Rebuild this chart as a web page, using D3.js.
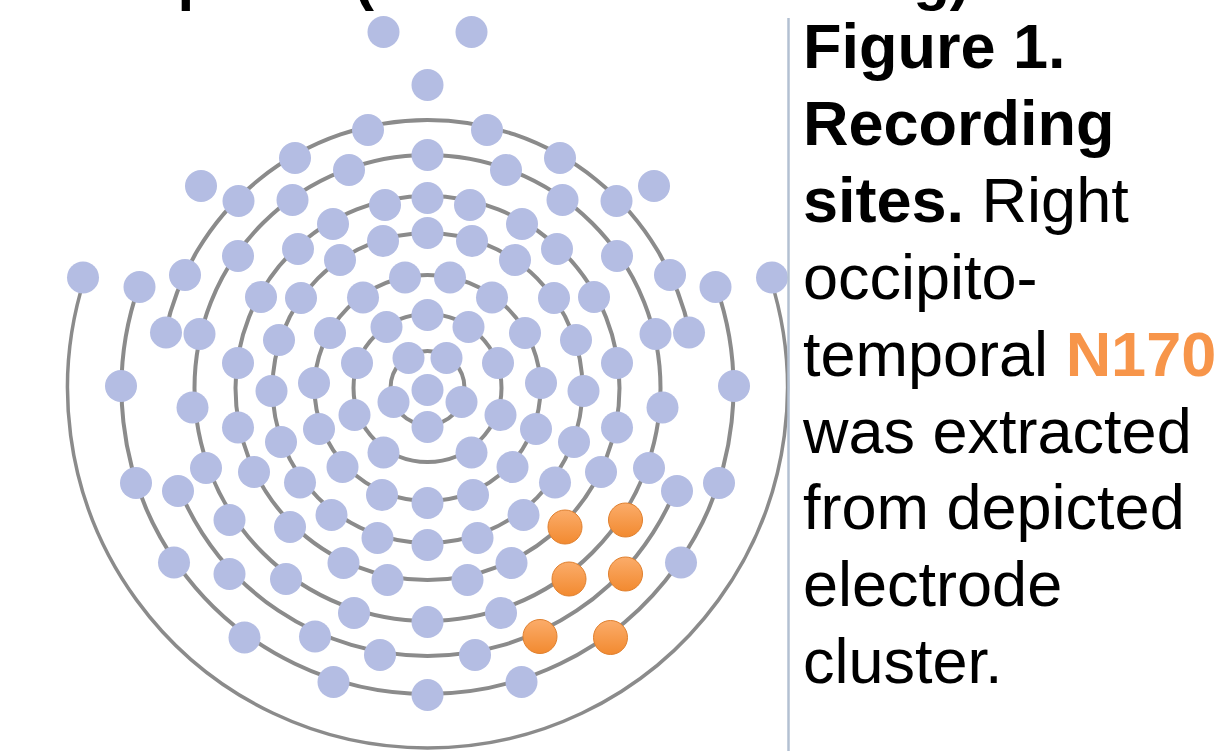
<!DOCTYPE html>
<html>
<head>
<meta charset="utf-8">
<script src="https://cdn.jsdelivr.net/npm/d3@7"></script>
<style>
    html, body { margin: 0; padding: 0; background: #fff; overflow: hidden; }
    svg { display: block; font-family: "Liberation Sans", Arial, sans-serif; }
</style>
</head>
<body>
<div id="sensor-chart"></div>
<script>
// sensor positions: x to the right, y towards the nose, vertex at 0,0
const vertexSite = [[0, -2]]
const ring1Sites = [[0, -39], [19, 30], [-19, 30], [34, -14], [-34, -14]]
const ring2Sites = [[0, 73], [41, 61], [-41, 61], [70.5, 25], [-70.5, 25], [73, -27], [-73, -27], [44, -64.5], [-44, -64.5]]
const ring3Sites = [[22.5, 110.5], [-22.5, 110.5], [64.5, 90.5], [-64.5, 90.5], [97.5, 55], [-97.5, 55], [113.5, 5], [-113.5, 5],
                    [108.5, -41], [-108.5, -41], [85, -79], [-85, -79], [45.5, -107], [-45.5, -107], [0, -115]]
const ring4Sites = [[0, 155], [44.5, 147], [-44.5, 147], [87.5, 128], [-87.5, 128], [126.5, 90], [-126.5, 90], [148.5, 48], [-148.5, 48],
                    [156, -3], [-156, -3], [146.5, -54], [-146.5, -54], [127.5, -94.5], [-127.5, -94.5], [96, -127], [-96, -127],
                    [50, -150], [-50, -150], [0, -157]]
const ring5Sites = [[0, 190], [42.5, 183], [-42.5, 183], [94.5, 164], [-94.5, 164], [129.5, 139], [-129.5, 139], [166.5, 91], [-166.5, 91],
                    [189.5, 25], [-189.5, 25], [189.5, -39.5], [-189.5, -39.5], [173.5, -84], [-173.5, -84], [-137.5, -139],
                    [84, -175], [-84, -175], [40, -192], [-40, -192]]
const ring6Sites = [[0, 233], [78.5, 218], [-78.5, 218], [135, 188], [-135, 188], [189.5, 132], [-189.5, 132], [228, 54], [-228, 54],
                    [235, -19.5], [-235, -19.5], [221.5, -80], [-221.5, -80], [-198, -132], [-141.5, -191],
                    [73.5, -225], [-73.5, -225], [0, -234]]
const ring7Sites = [[59.5, 258], [-59.5, 258], [132.5, 230], [-132.5, 230], [189, 187], [-189, 187], [242.5, 113], [-242.5, 113],
                    [261.5, 55.5], [-261.5, 55.5], [249.5, -103], [-249.5, -103], [-198, -186], [-112.5, -248.5],
                    [47.5, -267], [-47.5, -267]]
const ring8Sites = [[288, 101], [-288, 101], [306.5, 2], [-306.5, 2], [291.5, -95], [-291.5, -95], [253.5, -174.5], [-253.5, -174.5],
                    [-183, -249.5], [94, -294], [-94, -294], [0, -307]]
const outerSites = [[344.5, 110.5], [-344.5, 110.5]]
const looseSites = [[226.5, 202], [-226.5, 202], [0, 303], [44, 356], [-44, 356]]
// right occipito-temporal cluster
const n170Sites = [[137.5, -139], [198, -132], [141.5, -191], [198, -186], [112.5, -248.5], [183, -249.5]]

// guide lines: closed rings, then open arcs [radius, from deg, to deg] (0 = top, clockwise)
const ringRadii = [37, 74, 113, 155, 192, 233]
const openArcs = [[268, -78, 78], [268, 112.4, 247.6], [306, 70.7, 289.3], [360, 72.2, 287.8]]

// caption
const titleText = "Participants (N170 ERP recording)"
const captionLines = [
    [["Figure 1.", "bold"]],
    [["Recording", "bold"]],
    [["sites.", "bold"], [" Right", "normal"]],
    [["occipito-", "normal"]],
    [["temporal ", "normal"], ["N170", "accent"]],
    [["was extracted", "normal"]],
    [["from depicted", "normal"]],
    [["electrode", "normal"]],
    [["cluster.", "normal"]]
]

const W = 1219, H = 751
const blue = "#b4bde3", orange = "#f7954a", lineGrey = "#8b8b8b"

let svg = d3.select("#sensor-chart")
            .append("svg")
                .attr("width", W)
                .attr("height", H)
                .attr("viewBox", `0 0 ${W} ${H}`)

let x = d3.scaleLinear().domain([-427.5, 791.5]).range([0, W])
let y = d3.scaleLinear().domain([388, -363]).range([0, H])
let r = d => x(d) - x(0)

let defs = svg.append("defs")
let grad = defs.append("linearGradient")
                .attr("id", "orangeFill")
                .attr("x1", 0).attr("y1", 0).attr("x2", 0).attr("y2", 1)
grad.append("stop").attr("offset", "0%").attr("stop-color", "#fbac6a")
grad.append("stop").attr("offset", "100%").attr("stop-color", "#f28a30")

// title line, cut by the top edge as in the slide
svg.append("text")
    .attr("x", -6)
    .attr("y", -1)
    .attr("font-size", 60)
    .attr("font-weight", "bold")
    .attr("fill", "#000")
    .text(titleText)

// rings
let guides = svg.append("g")
                .attr("fill", "none")
                .attr("stroke", lineGrey)
                .attr("stroke-width", 4)

guides.selectAll("circle")
    .data(ringRadii)
    .enter().append("circle")
        .attr("cx", x(0))
        .attr("cy", y(0))
        .attr("r", d => r(d))

guides.selectAll("path")
    .data(openArcs)
    .enter().append("path")
        .attr("stroke-width", d => d[0] > 330 ? 3.5 : 4)
        .attr("d", d => {
            let p = d3.path()
            let toRad = a => (a - 90) * Math.PI / 180
            p.arc(x(0), y(0), r(d[0]), toRad(d[1]), toRad(d[2]))
            return p.toString()
        })

// sensors
let blueSites = [].concat(vertexSite, ring1Sites, ring2Sites, ring3Sites, ring4Sites, ring5Sites,
                          ring6Sites, ring7Sites, ring8Sites, outerSites, looseSites)

svg.append("g").selectAll("circle")
    .data(blueSites)
    .enter().append("circle")
        .attr("class", "site")
        .attr("cx", d => x(d[0]))
        .attr("cy", d => y(d[1]))
        .attr("r", 16)
        .attr("fill", blue)

svg.append("g").selectAll("circle")
    .data(n170Sites)
    .enter().append("circle")
        .attr("class", "site n170")
        .attr("cx", d => x(d[0]))
        .attr("cy", d => y(d[1]))
        .attr("r", 17)
        .attr("fill", "url(#orangeFill)")
        .attr("stroke", "#e0802e")
        .attr("stroke-width", 1)

// divider
svg.append("line")
    .attr("x1", 788.5).attr("x2", 788.5)
    .attr("y1", 18).attr("y2", H)
    .attr("stroke", "#b3c0d2")
    .attr("stroke-width", 2.5)

// caption
let caption = svg.append("text")
                .attr("font-size", 63)
                .attr("fill", "#000")

captionLines.forEach((line, i) => {
    let row = caption.append("tspan")
                .attr("x", 803)
                .attr("y", 68 + i * 76.9)
    line.forEach(part => {
        row.append("tspan")
            .attr("font-weight", part[1] == "normal" ? "normal" : "bold")
            .attr("fill", part[1] == "accent" ? orange : "#000")
            .text(part[0])
    })
})
</script>
</body>
</html>
